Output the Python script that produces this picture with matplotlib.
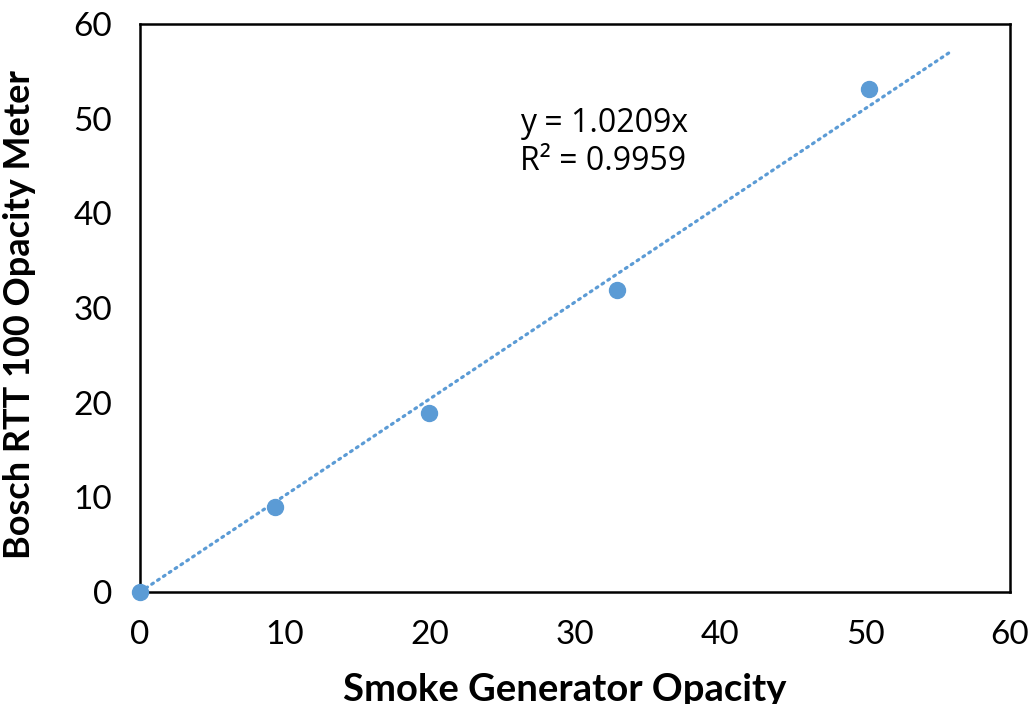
import numpy as np
import matplotlib.pyplot as plt

plt.rcParams['font.family'] = ['Lato', 'DejaVu Sans']

# measured opacities (%)
smoke_gen = [0, 9.3, 19.9, 32.9, 50.3]
bosch_rtt = [0, 9.0, 18.9, 31.9, 53.1]

# linear fit through origin
slope = 1.0209
r_squared = 0.9959
trend_x = [0, 56]

ticks = [0, 10, 20, 30, 40, 50, 60]
blue = '#5B9BD5'

fig = plt.figure(figsize=(10.32, 7.04), dpi=100)
ax = fig.add_axes([0.1357, 0.1591, 0.843, 0.8068])

trend_y = [slope * v for v in trend_x]
ax.plot(trend_x, trend_y, linestyle=(0, (0.6, 1.6)), color=blue, linewidth=2.3,
        dash_capstyle='round', zorder=2)
ax.plot(smoke_gen, bosch_rtt, 'o', color=blue, markersize=11.5, zorder=3, clip_on=False)

ax.text(26.2, 47.5, f'y = {slope}x\nR² = {r_squared}', fontsize=23,
        ha='left', va='center', linespacing=1.22, family=['Open Sans', 'DejaVu Sans'])

ax.set_xlim(0, 60)
ax.set_ylim(0, 60)
ax.set_xticks(ticks)
ax.set_yticks(ticks)
ax.tick_params(length=0, labelsize=24, pad=20)

for s in ax.spines.values():
    s.set_linewidth(1.8)

ax.set_xlabel('Smoke Generator Opacity', fontsize=27.5, fontweight='bold')
ax.set_ylabel('Bosch RTT 100 Opacity Meter', fontsize=26, fontweight='bold')
ax.xaxis.set_label_coords(0.4885, -0.143)
ax.yaxis.set_label_coords(-0.12, 0.4877)

fig.savefig('out.png', dpi=100)
